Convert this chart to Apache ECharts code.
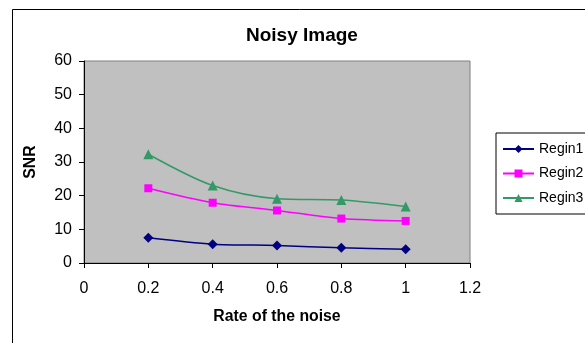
<!DOCTYPE html>
<html>
<head>
<meta charset="utf-8">
<script src="https://cdn.jsdelivr.net/npm/echarts@6/dist/echarts.min.js"></script>
<style>
  html, body { margin: 0; padding: 0; background: #fff; }
  #chart { width: 585px; height: 343px; }
</style>
</head>
<body>
<div id="chart"></div>
<script>
// noise rate on x, SNR per region
var rates = [0.2, 0.4, 0.6, 0.8, 1.0];
var regin1 = [7.5, 5.6, 5.2, 4.5, 4.1];
var regin2 = [22.2, 17.9, 15.6, 13.2, 12.5];
var regin3 = [32.3, 23.0, 19.1, 18.7, 16.8];
var seriesNames = ['Regin1', 'Regin2', 'Regin3'];

function pairs(vals) {
  var out = [];
  for (var i = 0; i < rates.length; i++) {
    out.push([rates[i], vals[i]]);
  }
  return out;
}

var chart = echarts.init(document.getElementById('chart'));

var font = 'Liberation Sans, Arial, sans-serif';

var option = {
  animation: false,
  backgroundColor: '#fff',
  textStyle: { fontFamily: font, color: '#000' },
  title: {
    text: 'Noisy Image',
    left: 241,
    top: 21,
    textStyle: { fontSize: 19, fontWeight: 'bold', color: '#000', fontFamily: font }
  },
  graphic: [
    {
      type: 'rect',
      left: 10,
      top: 7,
      shape: { width: 640, height: 400 },
      style: { fill: 'none', stroke: '#000', lineWidth: 1 },
      z: -1
    }
  ],
  legend: {
    orient: 'vertical',
    left: 496,
    top: 133,
    data: seriesNames,
    itemWidth: 31,
    itemHeight: 10,
    itemGap: 10.5,
    padding: [9, 40, 9, 6],
    borderColor: '#000',
    borderWidth: 1,
    backgroundColor: '#fff',
    textStyle: { fontSize: 14, color: '#000', fontFamily: font }
  },
  grid: {
    left: 84,
    top: 61,
    right: 115,
    bottom: 80,
    show: true,
    backgroundColor: '#C0C0C0',
    borderColor: '#808080',
    borderWidth: 1
  },
  xAxis: {
    type: 'value',
    min: 0,
    max: 1.2,
    interval: 0.2,
    name: 'Rate of the noise',
    nameLocation: 'middle',
    nameGap: 46,
    nameTextStyle: { fontSize: 15.8, fontWeight: 'bold', color: '#000', fontFamily: font },
    axisLine: { show: true, onZero: false, lineStyle: { color: '#000', width: 1 } },
    axisTick: { show: true, length: 5, lineStyle: { color: '#000' } },
    axisLabel: { fontSize: 16, color: '#000', margin: 18, fontFamily: font },
    splitLine: { show: false }
  },
  yAxis: {
    type: 'value',
    min: 0,
    max: 60,
    interval: 10,
    name: 'SNR',
    nameLocation: 'middle',
    nameGap: 45,
    nameTextStyle: { fontSize: 15.8, fontWeight: 'bold', color: '#000', fontFamily: font },
    axisLine: { show: true, lineStyle: { color: '#000', width: 1 } },
    axisTick: { show: true, length: 5, lineStyle: { color: '#000' } },
    axisLabel: { fontSize: 16, color: '#000', margin: 12, fontFamily: font },
    splitLine: { show: false }
  },
  series: [
    {
      name: 'Regin1',
      type: 'line',
      smooth: 0.3,
      data: pairs(regin1),
      symbol: 'diamond',
      symbolSize: 10,
      itemStyle: { color: '#000080' },
      lineStyle: { color: '#000080', width: 1.5 }
    },
    {
      name: 'Regin2',
      type: 'line',
      smooth: 0.3,
      data: pairs(regin2),
      symbol: 'rect',
      symbolSize: 8,
      itemStyle: { color: '#FF00FF' },
      lineStyle: { color: '#FF00FF', width: 1.5 }
    },
    {
      name: 'Regin3',
      type: 'line',
      smooth: 0.3,
      data: pairs(regin3),
      symbol: 'triangle',
      symbolSize: 10,
      itemStyle: { color: '#339966' },
      lineStyle: { color: '#339966', width: 1.5 }
    }
  ]
};

chart.setOption(option);
</script>
</body>
</html>
